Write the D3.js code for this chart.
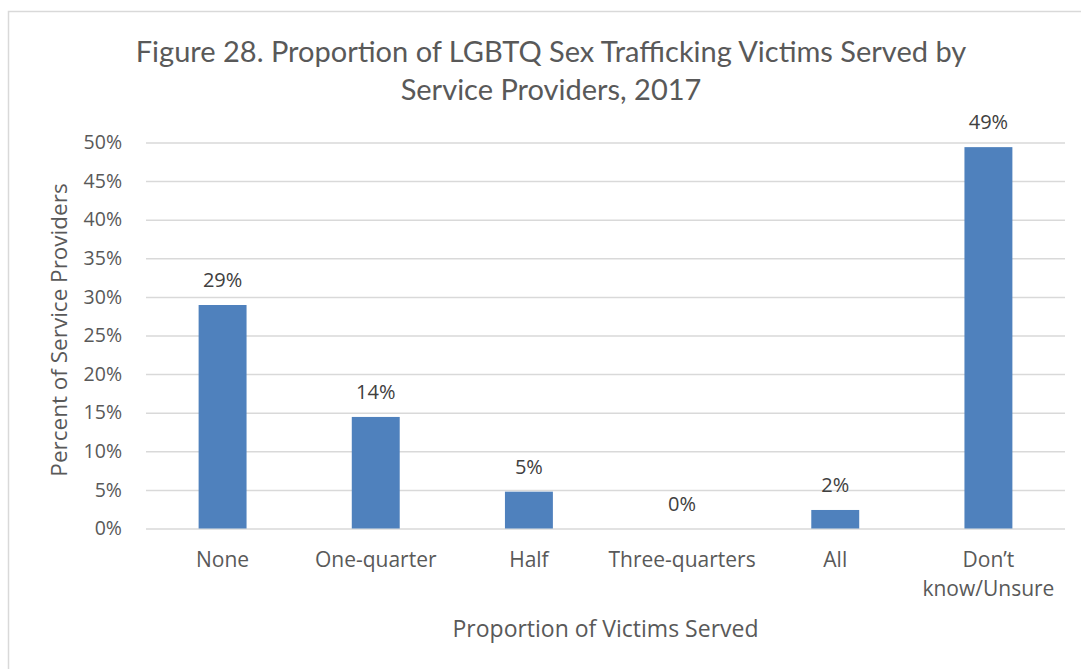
<!DOCTYPE html>
<html>
<head>
<meta charset="utf-8">
<script src="https://cdnjs.cloudflare.com/ajax/libs/d3/7.8.5/d3.min.js"></script>
<style>
    body { margin: 0; background: #fff; }
    svg { display: block; font-family: "Open Sans", sans-serif; }
</style>
</head>
<body>
<svg></svg>
<script>
const categories = ["None", "One-quarter", "Half", "Three-quarters", "All", "Don\u2019t know/Unsure"];
const values = [28.95, 14.45, 4.77, 0, 2.4, 49.4];
const valueLabels = ["29%", "14%", "5%", "0%", "2%", "49%"];
const yTicks = [0, 5, 10, 15, 20, 25, 30, 35, 40, 45, 50];
const titleLines = ["Figure 28. Proportion of LGBTQ Sex Trafficking Victims Served by", "Service Providers, 2017"];

const width = 1081,
    height = 669;
const margin = { top: 142.5, right: 16, bottom: 140.5, left: 146 };
const textColor = "#595959";

const svg = d3.select("svg").attr("width", width).attr("height", height);

// chart frame (cropped at right and bottom like the original)
svg.append("rect")
    .attr("x", 8.5)
    .attr("y", 11.5)
    .attr("width", 1100)
    .attr("height", 700)
    .attr("fill", "none")
    .attr("stroke", "#d9d9d9")
    .attr("stroke-width", 1.5);

const xScale = d3
    .scaleBand()
    .domain(categories)
    .range([margin.left, width - margin.right])
    .paddingInner(0.687)
    .paddingOuter(0.3435);

const yScale = d3
    .scaleLinear()
    .domain([0, 50])
    .range([height - margin.bottom, margin.top]);

// gridlines + y labels
const yAxis = d3
    .axisLeft(yScale)
    .tickValues(yTicks)
    .tickSize(-(width - margin.right - margin.left))
    .tickPadding(24)
    .tickFormat((d) => d + "%");

const yG = svg.append("g")
    .attr("transform", "translate(" + margin.left + ", 0)")
    .call(yAxis);
yG.select(".domain").remove();
yG.selectAll(".tick line").attr("stroke", "#d9d9d9").attr("stroke-width", 1.5);
yG.selectAll(".tick text")
    .attr("fill", textColor)
    .style("font-family", "'Open Sans', sans-serif")
    .style("font-size", "19.5px");

// bars
svg.selectAll("rect.bar")
    .data(values)
    .enter()
    .append("rect")
    .attr("class", "bar")
    .attr("x", (d, i) => xScale(categories[i]))
    .attr("width", xScale.bandwidth())
    .attr("y", (d) => yScale(d))
    .attr("height", (d) => yScale(0) - yScale(d))
    .attr("fill", "#4f81bd");

// data labels
svg.selectAll("text.label")
    .data(values)
    .enter()
    .append("text")
    .attr("class", "label")
    .attr("x", (d, i) => xScale(categories[i]) + xScale.bandwidth() / 2)
    .attr("y", (d) => yScale(d) - 18)
    .attr("text-anchor", "middle")
    .attr("fill", "#404040")
    .style("font-size", "20px")
    .text((d, i) => valueLabels[i]);

// x category labels
const xAxis = d3.axisBottom(xScale).tickSize(0).tickPadding(0);
const xG = svg.append("g")
    .attr("transform", "translate(0, " + (height - margin.bottom) + ")")
    .call(xAxis);
xG.select(".domain").remove();
xG.selectAll(".tick text").remove();
xG.selectAll(".tick")
    .append("text")
    .attr("text-anchor", "middle")
    .attr("fill", textColor)
    .style("font-family", "'Open Sans', sans-serif")
    .style("font-size", "21px")
    .each(function (d) {
        const lines = d === categories[5] ? ["Don\u2019t", "know/Unsure"] : [d];
        d3.select(this)
            .selectAll("tspan")
            .data(lines)
            .enter()
            .append("tspan")
            .attr("x", 0)
            .attr("y", (l, i) => 38 + i * 29.5)
            .text((l) => l);
    });

// title
svg.append("text")
    .attr("text-anchor", "middle")
    .attr("fill", textColor)
    .style("font-family", "Lato, sans-serif")
    .style("font-size", "29px")
    .selectAll("tspan")
    .data(titleLines)
    .enter()
    .append("tspan")
    .attr("x", 551)
    .attr("y", (d, i) => 62 + i * 38)
    .text((d) => d);

// axis titles
svg.append("text")
    .attr("text-anchor", "middle")
    .attr("fill", textColor)
    .style("font-size", "23px")
    .attr("x", (margin.left + width - margin.right) / 2)
    .attr("y", 637)
    .text("Proportion of Victims Served");

svg.append("text")
    .attr("text-anchor", "middle")
    .attr("fill", textColor)
    .style("font-size", "22.5px")
    .attr("transform", "translate(67, 330) rotate(-90)")
    .text("Percent of Service Providers");
</script>
</body>
</html>
